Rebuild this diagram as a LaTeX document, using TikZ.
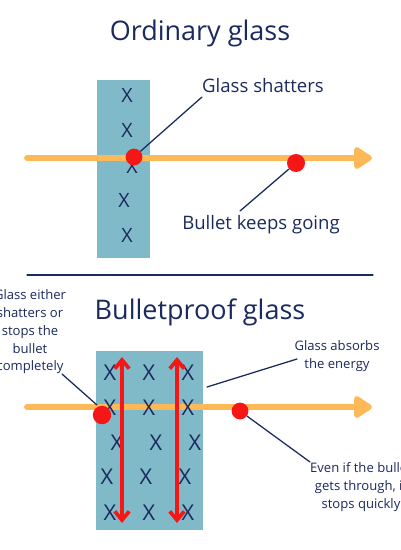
\documentclass[tikz,border=0pt]{standalone}
\usepackage{fontspec}
\setmainfont{Open Sans}
\usetikzlibrary{arrows.meta}
\definecolor{inkblue}{HTML}{1B2A5E}
\definecolor{glassblue}{HTML}{80BAC8}
\definecolor{pathorange}{HTML}{FDB858}
\definecolor{hitred}{HTML}{F51616}

\begin{document}
\begin{tikzpicture}[line cap=round,line join=round,x=0.025cm,y=-0.025cm,
  title/.style={text=inkblue,font=\fontsize{19.2}{22}\selectfont},
  label/.style={text=inkblue,align=center,font=\fontsize{13.2}{16}\selectfont},
  smalllabel/.style={text=inkblue,align=center,font=\fontsize{9.3}{12.6}\selectfont},
  pane/.style={fill=glassblue,draw=none},
  cross/.style={text=inkblue,inner sep=0pt,font=\fontsize{14}{14}\selectfont},
  bigcross/.style={text=inkblue,inner sep=0pt,font=\fontsize{15.5}{15}\selectfont},
  flight/.style={pathorange,line width=4.2pt,-{Triangle[length=0.5cm,width=0.62cm,round]}},
  bullet/.style={circle,fill=hitred,inner sep=0pt,minimum size=0.42cm},
  pointer/.style={inkblue,line width=0.9pt},
  wave/.style={hitred,line width=2.6pt,{Straight Barb[length=0.22cm,width=0.36cm,line width=2.6pt]}-{Straight Barb[length=0.22cm,width=0.36cm,line width=2.6pt]}}]
\useasboundingbox (0,0) rectangle (400,550);

% ordinary glass
\node[title] (ordtitle) at (200,33) {Ordinary glass};
\fill[pane] (97,80) rectangle (150,258);
\draw[flight] (27,158) -- (372,158);
\foreach \px/\py in {127/95,127/130,132/166,124/200,127/235}
  \node[cross] at (\px,\py) {X};
\node[bullet] (hit1) at (134,157) {};
\node[bullet,minimum width=0.45cm,minimum height=0.4cm] (pass1) at (296,163) {};
\node[label] (shatter) at (263,86) {Glass shatters};
\node[label] (keeps) at (261,225) {Bullet keeps going};
\coordinate (shatterfoot) at (202,97);
\coordinate (keepsfoot) at (240,211);
\draw[pointer] (shatterfoot) -- (hit1);
\draw[pointer] (keepsfoot) -- (pass1);

\draw[inkblue,line width=0.8pt] (27,275) -- (373,275);

% bulletproof glass
\node[title] (prooftitle) at (200,312) {Bulletproof glass};
\fill[pane] (96,351) rectangle (203,530);
\draw[flight] (27,407) -- (372,407);
\foreach \px/\py in {110/373,149/373,188/373,110/408,149/408,188/408,
  117/443,156/443,195/443,107/477,146/477,185/477,110/513,149/513,188/513}
  \node[bigcross] at (\px,\py) {X};
\draw[wave] (122,357) -- (122,523);
\draw[wave] (177,357) -- (177,523);
\node[bullet,minimum size=0.46cm] (hit2) at (102,415) {};
\node[bullet] (pass2) at (240,411) {};
\node[smalllabel] (either) at (30,332) {Glass either\\shatters or\\stops the\\bullet\\completely};
\node[smalllabel] (absorb) at (337,356) {Glass absorbs\\the energy};
\node[smalllabel] (quickly) at (361,487) {Even if the bullet\\gets through, it\\stops quickly};
\coordinate (eitherfoot) at (62,374);
\coordinate (absorbfoot) at (297,359);
\coordinate (glassedge) at (207,387);
\coordinate (quicklyfoot) at (310,462);
\draw[pointer] (eitherfoot) -- (97,405);
\draw[pointer] (glassedge) -- (absorbfoot);
\draw[pointer] (pass2) -- (quicklyfoot);
\end{tikzpicture}
\end{document}
